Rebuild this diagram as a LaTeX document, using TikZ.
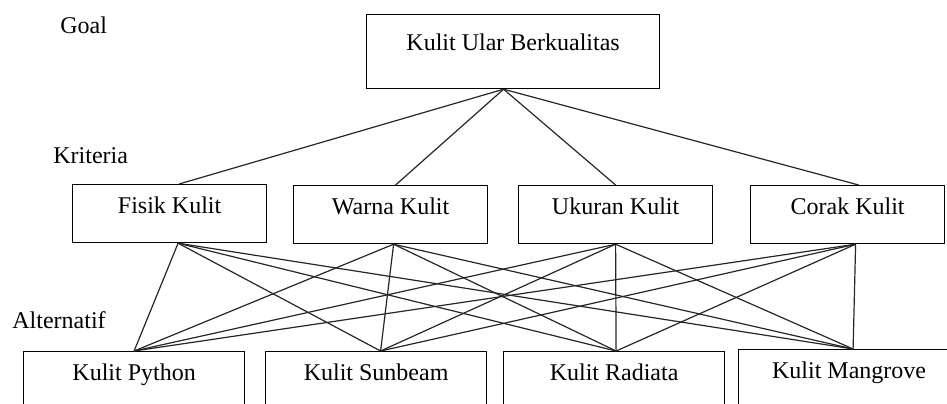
\documentclass[tikz,border=0pt]{standalone}
\usepackage{fontspec}
\setmainfont{Liberation Serif}
\usetikzlibrary{positioning}
\tikzset{
  box/.style={draw,line width=0.6pt,inner sep=0pt,align=center,
    font=\fontsize{12}{14}\selectfont,anchor=north west},
  goalbox/.style={box,minimum width=146.5pt,text height=18pt,text depth=19pt},
  critbox/.style={box,minimum width=97pt,text height=14.5pt,text depth=14.5pt},
  altbox/.style={box,minimum width=110.5pt,text height=14.5pt,text depth=40pt},
  level/.style={inner sep=0pt,anchor=base west,font=\fontsize{12}{14}\selectfont},
  link/.style={line width=0.6pt,draw=black!85}
}
\begin{document}
\begin{tikzpicture}[x=0.5pt,y=-0.5pt]
  \clip (0,0) rectangle (947,403);

  % level labels
  \node[level] (lgoal) at (60,33) {Goal};
  \node[level] (lkrit) at (53,163) {Kriteria};
  \node[level] (lalt) at (12,328) {Alternatif};

  % goal
  \node[goalbox] (goal) at (366,14) {Kulit Ular Berkualitas};

  % kriteria
  \node[critbox] (fisik) at (72,184) {Fisik Kulit};
  \node[critbox] (warna) at (293,185) {Warna Kulit};
  \node[critbox] (ukuran) at (518,185) {Ukuran Kulit};
  \node[critbox] (corak) at (750,185) {Corak Kulit};

  % alternatif
  \node[altbox] (python) at (23,351) {Kulit Python};
  \node[altbox] (sunbeam) at (265,351) {Kulit Sunbeam};
  \node[altbox] (radiata) at (503,351) {Kulit Radiata};
  \node[altbox] (mangrove) at (738,349) {Kulit Mangrove};

  % goal -> kriteria
  \foreach \c/\dx in {fisik/4.75,warna/2.5,ukuran/0,corak/5.5}
    \draw[link] ([xshift=-4.75pt]goal.south) -- ([xshift=\dx pt]\c.north);

  % kriteria -> alternatif
  \foreach \c/\dx in {fisik/4.25,warna/1.5,ukuran/0,corak/4}
    \foreach \a/\ax in {python/0,sunbeam/2.25,radiata/1,mangrove/2}
      \draw[link] ([xshift=\dx pt]\c.south) -- ([xshift=\ax pt]\a.north);
\end{tikzpicture}
\end{document}
